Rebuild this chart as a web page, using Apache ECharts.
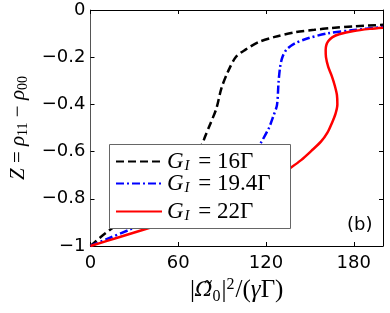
<!DOCTYPE html>
<html><head><meta charset="utf-8">
<script src="https://cdn.jsdelivr.net/npm/echarts@6/dist/echarts.min.js"></script>
<style>html,body{margin:0;padding:0;background:#fff}#c{width:390px;height:313px}</style>
</head><body><div id="c"></div>
<script>
// Data
const xTicks = [0, 60, 120, 180];
const yTicks = [-1, -0.8, -0.6, -0.4, -0.2, 0];
const seriesNames = ['G16', 'G19.4', 'G22'];
const legendValues = ['16Γ', '19.4Γ', '22Γ'];

const blackX = [0, 7, 15, 30, 45, 60, 70, 76.3, 78.3, 81.6, 86.1, 89.5, 94, 99.5, 106, 115, 126, 140, 153, 165, 180, 200];
const blackZ = [-1, -0.962, -0.924, -0.855, -0.78, -0.69, -0.625, -0.568, -0.537, -0.487, -0.417, -0.332, -0.261, -0.198, -0.168, -0.136, -0.114, -0.094, -0.084, -0.076, -0.069, -0.063];

const blueX = [0, 13, 27, 50, 75, 95, 108, 116.3, 121.9, 125, 127.5, 128.6, 129.7, 131.2, 134, 139.8, 148.7, 162, 180, 200];
const blueZ = [-1, -0.966, -0.93, -0.87, -0.795, -0.72, -0.65, -0.565, -0.501, -0.45, -0.403, -0.304, -0.24, -0.2, -0.168, -0.141, -0.12, -0.099, -0.085, -0.072];

const redX = [0, 20, 40, 70, 100, 122, 137.6, 144, 151, 157.7, 162, 165, 167.5, 168.8, 168.5, 167, 165, 162.5, 161, 160.8, 161.2, 162.5, 165.5, 170, 180, 191, 200];
const redZ = [-1, -0.962, -0.924, -0.87, -0.8, -0.73, -0.665, -0.636, -0.597, -0.557, -0.52, -0.48, -0.44, -0.40, -0.36, -0.32, -0.28, -0.24, -0.2, -0.17, -0.15, -0.132, -0.115, -0.103, -0.089, -0.08, -0.075];

const pairs = (xs, zs) => xs.map((x, i) => [x, zs[i]]);

const serif = 'Liberation Serif';
const sans = 'DejaVu Sans';

const chart = echarts.init(document.getElementById('c'), null, {renderer: 'canvas'});

const fmtY = v => {
  const r = Math.round(v * 10) / 10;
  if (r === 0) return '0';
  return (r < 0 ? '\u2212' : '') + String(Math.abs(r));
};

const legendRich = {
  i: {fontFamily: serif, fontStyle: 'italic', fontSize: 23, color: '#000'},
  s: {fontFamily: serif, fontStyle: 'italic', fontSize: 15, color: '#000', padding: [10, 3, 0, 1]},
  n: {fontFamily: serif, fontSize: 23, color: '#000'}
};
const legendTops = [150, 172, 200];
const legends = seriesNames.map((n, k) => ({
  data: [n],
  left: 115,
  top: legendTops[k],
  padding: 0,
  itemWidth: 46,
  itemHeight: 14,
  itemGap: 4,
  z: 10,
  selectedMode: false,
  itemStyle: {opacity: 0},
  formatter: () => '{i|G}{s|I}{n| = ' + legendValues[k] + '}',
  textStyle: {rich: legendRich}
}));

const axisLineStyle = {color: '#000', width: 1};

chart.setOption({
  animation: false,
  backgroundColor: '#fff',
  grid: {left: 85, right: 7, top: 10, bottom: 67, containLabel: false},
  xAxis: [{
    type: 'value', min: 0, max: 200, interval: 60, position: 'bottom',
    axisLine: {show: true, onZero: false, lineStyle: axisLineStyle},
    axisTick: {show: true, inside: true, length: 4, lineStyle: {color: '#000'}},
    splitLine: {show: false},
    axisLabel: {showMaxLabel: false, margin: 8, color: '#000', fontFamily: sans, fontSize: 18},
    name: '|{w|Ω̃}{s|0}|{p|2}/({o|γ}Γ)',
    nameLocation: 'middle', nameGap: 30,
    nameTextStyle: {
      fontFamily: serif, fontSize: 25, color: '#000',
      rich: {
        w: {fontFamily: 'DejaVu Serif', fontStyle: 'italic', fontSize: 21, color: '#000'},
        o: {fontFamily: serif, fontStyle: 'italic', fontSize: 25, color: '#000'},
        s: {fontFamily: serif, fontSize: 16, color: '#000', padding: [12, 1, 0, 0]},
        p: {fontFamily: serif, fontSize: 16, color: '#000', padding: [0, 1, 12, 0]}
      }
    }
  }, {
    type: 'value', min: 0, max: 200, interval: 60, position: 'top',
    axisLine: {show: true, onZero: false, lineStyle: axisLineStyle},
    axisTick: {show: true, inside: true, length: 4, lineStyle: {color: '#000'}},
    splitLine: {show: false}, axisLabel: {show: false}
  }],
  yAxis: [{
    type: 'value', min: -1, max: 0, interval: 0.2, position: 'left',
    axisLine: {show: true, onZero: false, lineStyle: {color: '#555', width: 1}},
    axisTick: {show: true, inside: true, length: 4, lineStyle: {color: '#000'}},
    splitLine: {show: false},
    axisLabel: {margin: 5, color: '#000', fontFamily: sans, fontSize: 18, formatter: fmtY},
    name: '{o|Z} = {o|ρ}{s|11} − {o|ρ}{s|00}',
    nameLocation: 'middle', nameGap: 60,
    nameTextStyle: {
      fontFamily: serif, fontSize: 21, color: '#000',
      rich: {
        o: {fontFamily: serif, fontStyle: 'italic', fontSize: 21, color: '#000'},
        s: {fontFamily: serif, fontSize: 14, color: '#000', padding: [10, 0, 0, 0]}
      }
    }
  }, {
    type: 'value', min: -1, max: 0, interval: 0.2, position: 'right',
    axisLine: {show: true, onZero: false, lineStyle: axisLineStyle},
    axisTick: {show: true, inside: true, length: 4, lineStyle: {color: '#000'}},
    splitLine: {show: false}, axisLabel: {show: false}
  }],
  legend: legends,
  graphic: [{
    type: 'rect', left: 109, top: 144, z: 5,
    shape: {width: 181, height: 84},
    style: {fill: '#fff', stroke: '#666', lineWidth: 1}
  }, {
    type: 'text', left: 347, top: 216, z: 5,
    style: {text: '(b)', font: '18px "DejaVu Sans"', fill: '#000'}
  }],
  series: [{
    name: seriesNames[0], type: 'line', data: pairs(blackX, blackZ),
    symbol: 'none', smooth: 0.3, z: 2,
    lineStyle: {color: '#000', width: 2.5, type: [8, 4]},
    itemStyle: {color: '#000'}
  }, {
    name: seriesNames[1], type: 'line', data: pairs(blueX, blueZ),
    symbol: 'none', smooth: 0.3, z: 2,
    lineStyle: {color: '#0000ff', width: 2.5, type: [8, 3, 2, 3]},
    itemStyle: {color: '#0000ff'}
  }, {
    name: seriesNames[2], type: 'line', data: pairs(redX, redZ),
    symbol: 'none', smooth: 0.3, z: 2,
    lineStyle: {color: '#ff0000', width: 2.5},
    itemStyle: {color: '#ff0000'}
  }]
});
</script></body></html>
